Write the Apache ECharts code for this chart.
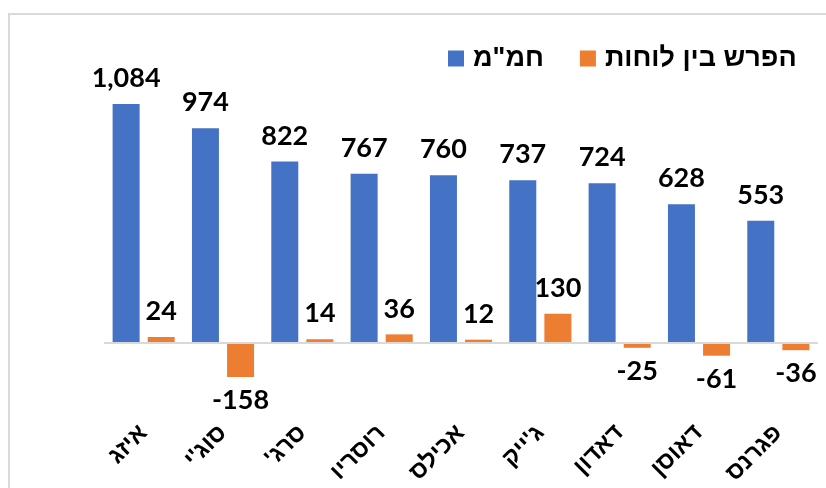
<!DOCTYPE html>
<html><head><meta charset="utf-8">
<script src="https://cdn.jsdelivr.net/npm/echarts@6/dist/echarts.min.js"></script>
<style>html,body{margin:0;padding:0;background:#fff}#c{width:826px;height:488px}</style>
</head><body><div id="c"></div>
<script>
const categories = ["איזג", "סוג'י", "סרג'", "רוסריו", "אכילס", "ג'ייק", "דאדון", "דאוסן", "פגרנס"];
const seriesNames = ['חמ"מ', "הפרש בין לוחות"];
const hamam = [1084, 974, 822, 767, 760, 737, 724, 628, 553];
const diff = [24, -158, 14, 36, 12, 130, -25, -61, -36];

const numFont = 'Lato, "Liberation Sans", sans-serif';
const hebFont = '"Liberation Sans", Arial, sans-serif';
const fmt = v => v.toLocaleString('en-US');
const rtl = s => '\u200F' + s + '\u200F';

function withLabels(arr) {
  return arr.map(v => ({
    value: v,
    label: { position: v < 0 ? 'bottom' : 'top', distance: v < 0 ? 10 : 12 }
  }));
}

const chart = echarts.init(document.getElementById('c'), null, { renderer: 'canvas' });
chart.setOption({
  animation: false,
  backgroundColor: '#fff',
  graphic: [{
    type: 'rect', shape: { x: 9, y: 14, width: 830, height: 490 },
    style: { fill: 'none', stroke: '#d9d9d9', lineWidth: 2 }, silent: true, z: -1
  }],
  legend: {
    data: seriesNames,
    left: 443, top: 40,
    itemWidth: 16, itemHeight: 16, itemGap: 36,
    icon: 'rect',
    formatter: n => rtl(n),
    textStyle: { fontFamily: hebFont, fontWeight: 'bold', fontSize: 27, color: '#000', padding: [0, 0, 0, 4] }
  },
  grid: { left: 104, right: 8, top: 78.5, bottom: 101.5, containLabel: false },
  xAxis: {
    type: 'category', data: categories,
    axisLine: { show: false }, axisTick: { show: false },
    axisLabel: { rotate: 45, margin: 43, interval: 0, formatter: v => rtl(v), fontFamily: hebFont, fontWeight: 'bold', fontSize: 24, color: '#000' }
  },
  yAxis: {
    type: 'value', min: -200, max: 1200, show: false, splitLine: { show: false }
  },
  series: [
    {
      name: seriesNames[0], type: 'bar', data: withLabels(hamam),
      barWidth: 27, barGap: '30%',
      itemStyle: { color: '#4472c4' },
      label: { show: true, formatter: p => fmt(p.value), fontFamily: numFont, fontWeight: 'bold', fontSize: 27, color: '#000' },
      markLine: {
        silent: true, symbol: 'none', label: { show: false },
        lineStyle: { color: '#d9d9d9', width: 2, type: 'solid' },
        data: [{ yAxis: 0 }]
      }
    },
    {
      name: seriesNames[1], type: 'bar', data: withLabels(diff),
      barWidth: 27, barGap: '30%',
      itemStyle: { color: '#ed7d31' },
      label: { show: true, formatter: p => fmt(p.value), fontFamily: numFont, fontWeight: 'bold', fontSize: 27, color: '#000' }
    }
  ]
});
</script></body></html>
